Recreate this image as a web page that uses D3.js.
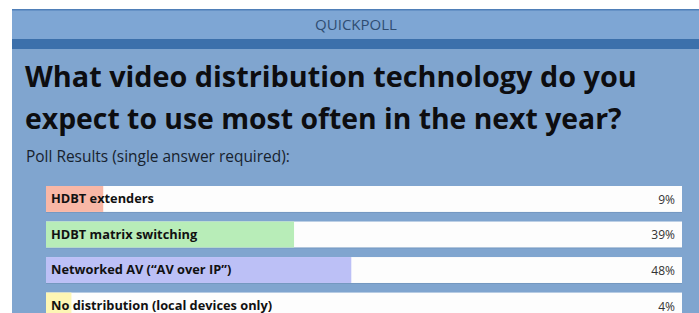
<!DOCTYPE html>
<html>
<head>
<meta charset="utf-8">
<script src="https://cdn.jsdelivr.net/npm/d3@7"></script>
<style>
  html, body { margin: 0; padding: 0; background: #ffffff; }
  svg { display: block; }
</style>
</head>
<body>
<div id="chart"></div>
<script>
var width = 699;
var height = 313;

var answers = [
  "HDBT extenders",
  "HDBT matrix switching",
  "Networked AV (\u201CAV over IP\u201D)",
  "No distribution (local devices only)"
];
var percents = [9, 39, 48, 4];
var barColors = ["#f8b7a6", "#b8edb8", "#bcc0f6", "#fdf6b4"];
var titleLines = [
  "What video distribution technology do you",
  "expect to use most often in the next year?"
];

var barLeft = 46;
var barRight = 682;

var svg = d3
  .select("#chart")
  .append("svg")
  .attr("width", width)
  .attr("height", height);

// header + panel
svg.append("rect").attr("x", 12).attr("y", 9).attr("width", width - 12).attr("height", 31).attr("fill", "#7ea6d4");
svg.append("rect").attr("x", 12).attr("y", 9).attr("width", width - 12).attr("height", 1.5).attr("fill", "#4f7fb8");
svg.append("rect").attr("x", 12).attr("y", 39).attr("width", width - 12).attr("height", 10).attr("fill", "#3c70ab");
svg.append("rect").attr("x", 12).attr("y", 49).attr("width", width - 12).attr("height", height - 49).attr("fill", "#80a5cf");

svg
  .append("text")
  .attr("x", 356)
  .attr("y", 30)
  .attr("text-anchor", "middle")
  .attr("font-family", "Open Sans")
  .attr("font-size", "15px")
  .attr("fill", "#2f4d72")
  .text("QUICKPOLL");

// fit a text to the width it has in the picture
function fitWidth(sel, size, target) {
  sel.each(function (d, i) {
    var w = typeof target === "function" ? target(d, i) : target;
    var len = this.getComputedTextLength();
    d3.select(this).attr("font-size", (size * w) / len + "px");
  });
}

var titleWidths = [612, 597];
svg
  .selectAll("text.title")
  .data(titleLines)
  .enter()
  .append("text")
  .attr("class", "title")
  .attr("x", 25)
  .attr("y", function (d, i) {
    return 87 + i * 42;
  })
  .attr("font-family", "Open Sans")
  .attr("font-weight", "bold")
  .attr("font-size", "28px")
  .attr("fill", "#0d0d10")
  .text(function (d) {
    return d;
  })
  .call(fitWidth, 28, function (d, i) {
    return titleWidths[i];
  });

svg
  .append("text")
  .attr("x", 26)
  .attr("y", 162)
  .attr("font-family", "Open Sans")
  .attr("font-size", "15px")
  .attr("fill", "#17222e")
  .text("Poll Results (single answer required):")
  .call(fitWidth, 15, 264);

var xScale = d3.scaleLinear().domain([0, 100]).range([0, barRight - barLeft]);

var yScale = d3
  .scaleBand()
  .domain(answers)
  .range([186, 318.5])
  .paddingInner(0.27);

var rows = answers.map(function (a, i) {
  return { answer: a, pct: percents[i], color: barColors[i] };
});

var row = svg
  .selectAll("g.row")
  .data(rows)
  .enter()
  .append("g")
  .attr("class", "row")
  .attr("transform", function (d) {
    return "translate(" + barLeft + "," + yScale(d.answer) + ")";
  });

row
  .append("rect")
  .attr("x", 0)
  .attr("y", 1)
  .attr("width", xScale(100))
  .attr("height", yScale.bandwidth())
  .attr("fill", "#6d8fb8")
  .attr("opacity", 0.6);

row
  .append("rect")
  .attr("width", xScale(100))
  .attr("height", yScale.bandwidth())
  .attr("fill", "#fdfdfd");

row
  .append("rect")
  .attr("width", function (d) {
    return xScale(d.pct);
  })
  .attr("height", yScale.bandwidth())
  .attr("fill", function (d) {
    return d.color;
  });

row
  .append("text")
  .attr("x", 5)
  .attr("y", yScale.bandwidth() / 2 + 4.5)
  .attr("font-family", "Open Sans")
  .attr("font-weight", "bold")
  .attr("font-size", "12.8px")
  .attr("fill", "#111111")
  .text(function (d) {
    return d.answer;
  });

row
  .append("text")
  .attr("x", xScale(100) - 7)
  .attr("y", yScale.bandwidth() / 2 + 5)
  .attr("text-anchor", "end")
  .attr("font-family", "Open Sans")
  .attr("font-size", "12px")
  .attr("fill", "#333333")
  .text(function (d) {
    return d.pct + "%";
  });
</script>
</body>
</html>
